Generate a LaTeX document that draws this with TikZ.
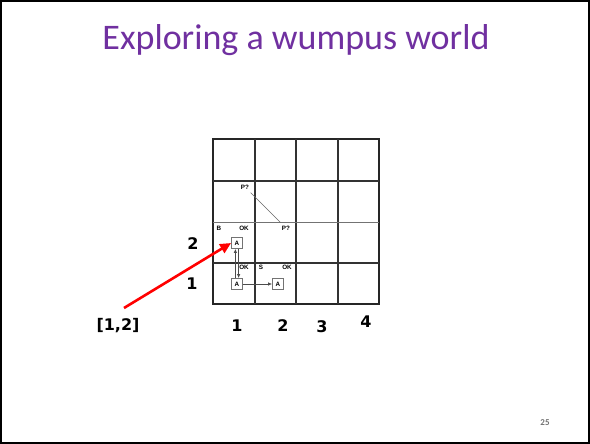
\documentclass[tikz,border=0pt]{standalone}
\usepackage{fontspec}
\usepackage{tikz}
\usetikzlibrary{arrows.meta}
\setmainfont{Carlito}
\newfontfamily\labfont{DejaVu Sans}
\newfontfamily\cellfont{Liberation Sans}
\definecolor{titlepurple}{RGB}{112,48,160}

\begin{document}
\begin{tikzpicture}[x=1pt,y=-1pt]
			\useasboundingbox (0,0) rectangle (590,444);
			\draw[line width=2pt](1,1) rectangle (589,443);
			\node[text=titlepurple,font=\fontsize{36}{40}\selectfont] (title) at (296,40) {Exploring a wumpus world};
			
			\draw[line width=1.4pt,black!85](213,139) rectangle (379,304);
			\draw[line width=1.2pt,black!80](255,139)--(255,304);
			\draw[line width=1.2pt,black!80](296,139)--(296,304);
			\draw[line width=1.2pt,black!80](338,139)--(338,304);
			\draw[line width=1.2pt,black!80](213,181)--(379,181);
			\draw[line width=0.6pt,black!55](213,222)--(379,222);
			\draw[line width=1.2pt,black!80](213,263)--(379,263);
			
			\node[font=\cellfont\bfseries\fontsize{6.3}{7}\selectfont] (p13) at (245,187) {P?};
			\node[font=\cellfont\bfseries\fontsize{6.3}{7}\selectfont] (p22) at (286,228) {P?};
			\draw[black!60,line width=0.7pt](p13)--(p22);
			\node[font=\cellfont\bfseries\fontsize{6.3}{7}\selectfont] (b12) at (219,228) {B};
			\node[font=\cellfont\bfseries\fontsize{6.3}{7}\selectfont] (ok12) at (244,228) {OK};
			\node[font=\cellfont\bfseries\fontsize{6.3}{7}\selectfont] (ok11) at (244,267) {OK};
			\node[font=\cellfont\bfseries\fontsize{6.3}{7}\selectfont] (s21) at (261,267) {S};
			\node[font=\cellfont\bfseries\fontsize{6.3}{7}\selectfont] (ok21) at (287,267) {OK};
			
			\node[draw=black!55,line width=0.8pt,minimum size=11pt,inner sep=0pt,font=\cellfont\bfseries\fontsize{6.3}{7}\selectfont] (a12) at (237,243) {A};
			\node[draw=black!55,line width=0.8pt,minimum size=11pt,inner sep=0pt,font=\cellfont\bfseries\fontsize{6.3}{7}\selectfont] (a11) at (237,284) {A};
			\node[draw=black!55,line width=0.8pt,minimum size=11pt,inner sep=0pt,font=\cellfont\bfseries\fontsize{6.3}{7}\selectfont] (a21) at (278,284) {A};
			\draw[black!70,line width=0.7pt,-{Latex[length=4pt,width=3.5pt]}](a11)--(a21);
			\draw[black!70,line width=0.7pt,-{Latex[length=4pt,width=3.5pt]}]([xshift=-1.6pt]a11.north)--([xshift=-1.6pt]a12.south);
			\draw[black!70,line width=0.7pt,-{Latex[length=4pt,width=3.5pt]}]([xshift=1.6pt]a12.south)--([xshift=1.6pt]a11.north);
			
			\node[font=\labfont\bfseries\fontsize{16}{18}\selectfont] (row2) at (193,244) {2};
			\node[font=\labfont\bfseries\fontsize{16}{18}\selectfont] (row1) at (192,284) {1};
			\node[font=\labfont\bfseries\fontsize{16}{18}\selectfont] (col1) at (237,326) {1};
			\node[font=\labfont\bfseries\fontsize{16}{18}\selectfont] (col2) at (283,326) {2};
			\node[font=\labfont\bfseries\fontsize{16}{18}\selectfont] (col3) at (322,327) {3};
			\node[font=\labfont\bfseries\fontsize{16}{18}\selectfont] (col4) at (366,322) {4};
			\node[font=\labfont\bfseries\fontsize{16}{18}\selectfont] (sq12) at (118,326) {[1,2]};
			
			\coordinate (tail) at (124,308);
			\draw[red,line width=2.6pt,-{Triangle[length=11pt,width=10pt]}](tail)--(a12.west);
			
			\node[text=black!55,font=\bfseries\fontsize{9}{10}\selectfont] (pagenum) at (545,423) {25};
			\end{tikzpicture}
\end{document}
